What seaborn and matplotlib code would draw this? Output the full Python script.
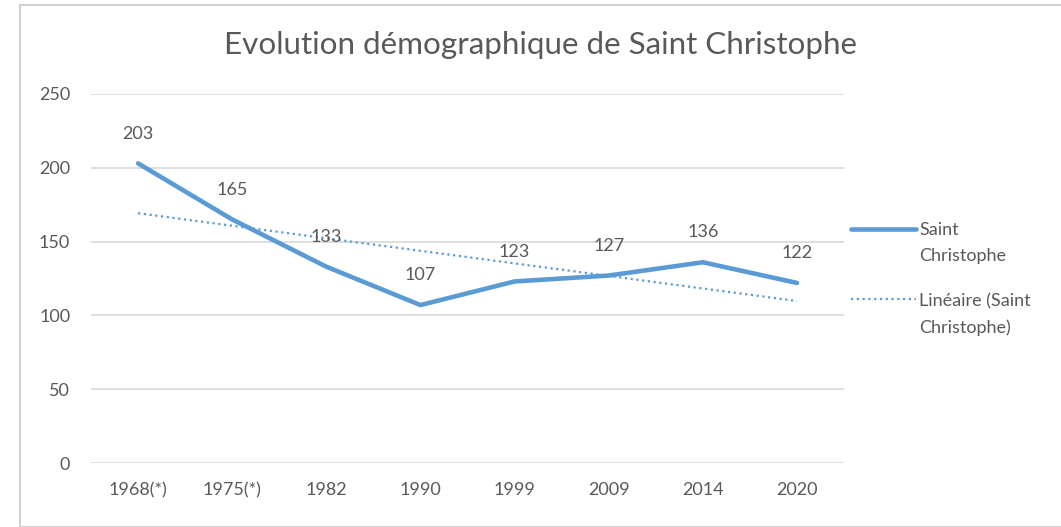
import matplotlib
matplotlib.use("Agg")
import matplotlib.pyplot as plt
import seaborn as sns
import numpy as np
import pandas as pd
from matplotlib.patches import Rectangle

years = ["1968(*)", "1975(*)", "1982", "1990", "1999", "2009", "2014", "2020"]
population = [203, 165, 133, 107, 123, 127, 136, 122]
series_name = "Saint\nChristophe"
trend_name = "Linéaire (Saint\nChristophe)"
title = "Evolution démographique de Saint Christophe"

sns.set_theme(style="white")
plt.rcParams['font.family'] = ['Lato', 'DejaVu Sans']

W, H = 1061, 527
fig = plt.figure(figsize=(W / 100, H / 100), dpi=100)
fig.patch.set_facecolor("white")
# frame
fig.patches.append(Rectangle((20 / W, 0), 1 - 20 / W + 0.01, 1 - 5 / H, transform=fig.transFigure,
                             fill=False, edgecolor="#d0d0d0", linewidth=1.5))

ax = fig.add_axes([91 / W, 1 - 463 / H, (844 - 91) / W, (463 - 94) / H])

df = pd.DataFrame({"idx": np.arange(len(years)), "year": years, "pop": population})
blue = "#5B9BD5"
txt = "#595959"

sns.lineplot(data=df, x="idx", y="pop", ax=ax, color=blue, linewidth=3.3,
             label=series_name, solid_capstyle="round")

coef = np.polyfit(df["idx"] + 1, df["pop"], 1)
trend = np.polyval(coef, df["idx"] + 1)
ax.plot(df["idx"], trend, color=blue, linestyle=(0, (1, 1.6)), linewidth=1.6, label=trend_name)

for i, v in zip(df["idx"], df["pop"]):
    ax.annotate(str(v), (i, v), xytext=(0, 21.5), textcoords="offset points",
                ha="center", va="center", fontsize=13, color=txt)

ax.set_xlim(-0.5, len(years) - 0.5)
ax.set_ylim(0, 250)
ax.set_yticks(range(0, 251, 50))
ax.set_xticks(df["idx"])
ax.set_xticklabels(years)
ax.tick_params(axis="both", labelsize=13, colors=txt, length=0)
ax.tick_params(axis="x", pad=14)
ax.tick_params(axis="y", pad=15)
ax.yaxis.grid(True, color="#d9d9d9", linewidth=1.2)
ax.xaxis.grid(False)
for s in ax.spines.values():
    s.set_visible(False)
ax.set_xlabel("")
ax.set_ylabel("")
ax.set_axisbelow(True)

fig.text(541 / W, 1 - 45 / H, title, ha="center", va="center", fontsize=22.6, color=txt)

leg = ax.legend(loc="upper left", bbox_to_anchor=(1.0, 0.672), frameon=False, fontsize=13,
                labelcolor=txt, handlelength=3.6, handletextpad=0.15, labelspacing=1.6,
                borderaxespad=0)
for text in leg.get_texts():
    text.set_linespacing(1.75)
for col in leg._legend_handle_box.get_children():
    for item in col.get_children():
        item.align = "top"

fig.savefig("out.png", dpi=100, facecolor="white")
